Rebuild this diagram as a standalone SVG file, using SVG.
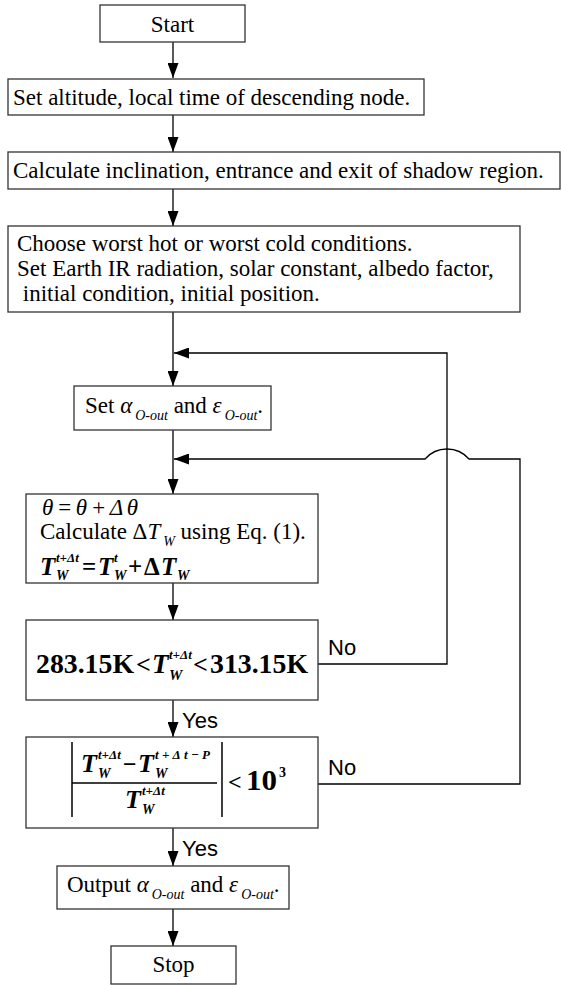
<svg xmlns="http://www.w3.org/2000/svg" width="561" height="985" viewBox="0 0 561 985">
<defs>
<style>
.box{fill:#fff;stroke:#333;stroke-width:1.3}
.t{font-family:"Liberation Serif","Times New Roman",serif;font-size:23px;fill:#000}
.sub{font-family:"Liberation Serif","Times New Roman",serif;font-style:italic;font-size:14px}
.lbl{font-family:"Liberation Sans",Arial,sans-serif;font-size:22px;fill:#000}
.eq{font-family:"Liberation Serif","Times New Roman",serif;font-style:italic;font-weight:bold;fill:#000}
.num{font-family:"Liberation Serif","Times New Roman",serif;font-weight:bold;fill:#000}
.conn{fill:none;stroke:#000;stroke-width:1.3}
.bar{fill:none;stroke:#000;stroke-width:1.5}
</style>
<marker id="ah" viewBox="0 0 15 11" refX="15" refY="5.5" markerWidth="15" markerHeight="11" markerUnits="userSpaceOnUse" orient="auto">
<path d="M0,0 L15,5.5 L0,11 z" fill="#000"/>
</marker>
</defs>
<rect width="561" height="985" fill="#fff"/>

<g id="connectors">
<path class="conn" d="M173 42 V78" marker-end="url(#ah)"/>
<path class="conn" d="M173 115 V152" marker-end="url(#ah)"/>
<path class="conn" d="M173 189 V226" marker-end="url(#ah)"/>
<path class="conn" d="M173 312 V386" marker-end="url(#ah)"/>
<path class="conn" d="M173 430 V494" marker-end="url(#ah)"/>
<path class="conn" d="M173 583 V620" marker-end="url(#ah)"/>
<path class="conn" d="M173 700 V737" marker-end="url(#ah)"/>
<path class="conn" d="M173 828 V866" marker-end="url(#ah)"/>
<path class="conn" d="M173 909 V946" marker-end="url(#ah)"/>
<path class="conn" d="M318 664 H447 V353 H174" marker-end="url(#ah)"/>
<path class="conn" d="M318 784 H520 V459 H469 A29.2 29.2 0 0 0 425 459 H174" marker-end="url(#ah)"/>
<text class="lbl" x="328" y="655">No</text>
<text class="lbl" x="328" y="775">No</text>
<text class="lbl" x="182" y="728">Yes</text>
<text class="lbl" x="182" y="856">Yes</text>
</g>

<g id="start">
<rect class="box" x="100" y="5" width="145" height="37"/>
<text class="t" x="172.5" y="32" text-anchor="middle">Start</text>
</g>

<g id="set-altitude">
<rect class="box" x="8" y="79" width="416" height="36"/>
<text class="t" x="13" y="105">Set altitude, local time of descending node.</text>
</g>

<g id="calc-inclination">
<rect class="box" x="8" y="152" width="552" height="37"/>
<text class="t" x="13" y="178">Calculate inclination, entrance and exit of shadow region.</text>
</g>

<g id="conditions">
<rect class="box" x="8" y="226" width="512" height="86"/>
<text class="t" x="17" y="251">Choose worst hot or worst cold conditions.</text>
<text class="t" x="17" y="276">Set Earth IR radiation, solar constant, albedo factor,</text>
<text class="t" x="17" y="301" xml:space="preserve"> initial condition, initial position.</text>
</g>

<g id="set-alpha">
<rect class="box" x="74" y="386" width="197" height="44"/>
<text class="t" x="85" y="413">Set <tspan font-style="italic">α</tspan><tspan class="sub" dx="3" dy="7">O-out</tspan><tspan dy="-7"> and </tspan><tspan font-style="italic">ε</tspan><tspan class="sub" dx="3" dy="7">O-out</tspan><tspan dy="-7">.</tspan></text>
</g>

<g id="theta-step">
<rect class="box" x="26" y="494" width="292" height="89"/>
<text class="t" x="42" y="515" font-style="italic" font-size="25" textLength="96" lengthAdjust="spacing">θ=θ+Δθ</text>
<text class="t" x="40" y="539">Calculate Δ<tspan font-style="italic">T</tspan><tspan class="sub" dx="3" dy="7">W</tspan><tspan dy="-7"> using Eq. (1).</tspan></text>
<text class="eq" x="40" y="575" font-size="25">T</text>
<text class="eq" x="56" y="580" font-size="14">W</text>
<text class="eq" x="56" y="562" font-size="13">t+Δt</text>
<text class="num" x="82" y="575" font-size="25">=</text>
<text class="eq" x="98" y="575" font-size="25">T</text>
<text class="eq" x="114" y="580" font-size="14">W</text>
<text class="eq" x="114" y="562" font-size="13">t</text>
<text class="num" x="128" y="575" font-size="25">+</text>
<text class="num" x="144" y="575" font-size="25">Δ</text>
<text class="eq" x="161" y="575" font-size="25">T</text>
<text class="eq" x="177" y="580" font-size="14">W</text>
</g>

<g id="range-check">
<rect class="box" x="26" y="620" width="292" height="80"/>
<text class="num" x="36" y="673" font-size="28" textLength="98" lengthAdjust="spacingAndGlyphs">283.15K</text>
<text class="num" x="136" y="673" font-size="26">&lt;</text>
<text class="eq" x="152" y="673" font-size="27">T</text>
<text class="eq" x="169" y="680" font-size="15">W</text>
<text class="eq" x="169" y="659" font-size="13">t+Δt</text>
<text class="num" x="193" y="673" font-size="26">&lt;</text>
<text class="num" x="210" y="673" font-size="28" textLength="98" lengthAdjust="spacingAndGlyphs">313.15K</text>
</g>

<g id="convergence-check">
<rect class="box" x="26" y="737" width="292" height="91"/>
<path class="bar" d="M72 742 V817 M222 742 V817 M72 783 H217"/>
<text class="eq" x="81" y="772" font-size="26">T</text>
<text class="eq" x="98" y="778" font-size="14">W</text>
<text class="eq" x="98" y="759" font-size="13">t+Δt</text>
<text class="num" x="123" y="772" font-size="24">−</text>
<text class="eq" x="138" y="772" font-size="26">T</text>
<text class="eq" x="155" y="778" font-size="14">W</text>
<text class="eq" x="155" y="759" font-size="13" textLength="55" lengthAdjust="spacing">t+Δt−P</text>
<text class="eq" x="125" y="808" font-size="26">T</text>
<text class="eq" x="142" y="814" font-size="14">W</text>
<text class="eq" x="142" y="795" font-size="13">t+Δt</text>
<text class="num" x="228" y="790" font-size="24">&lt;</text>
<text class="num" x="246" y="790" font-size="30" textLength="31" lengthAdjust="spacingAndGlyphs">10</text>
<text class="num" x="279" y="777" font-size="14">3</text>
</g>

<g id="output">
<rect class="box" x="57" y="866" width="232" height="43"/>
<text class="t" x="67" y="892">Output <tspan font-style="italic">α</tspan><tspan class="sub" dx="3" dy="7">O-out</tspan><tspan dy="-7"> and </tspan><tspan font-style="italic">ε</tspan><tspan class="sub" dx="3" dy="7">O-out</tspan><tspan dy="-7">.</tspan></text>
</g>

<g id="stop">
<rect class="box" x="111" y="946" width="125" height="38"/>
<text class="t" x="173.5" y="972" text-anchor="middle">Stop</text>
</g>
</svg>
